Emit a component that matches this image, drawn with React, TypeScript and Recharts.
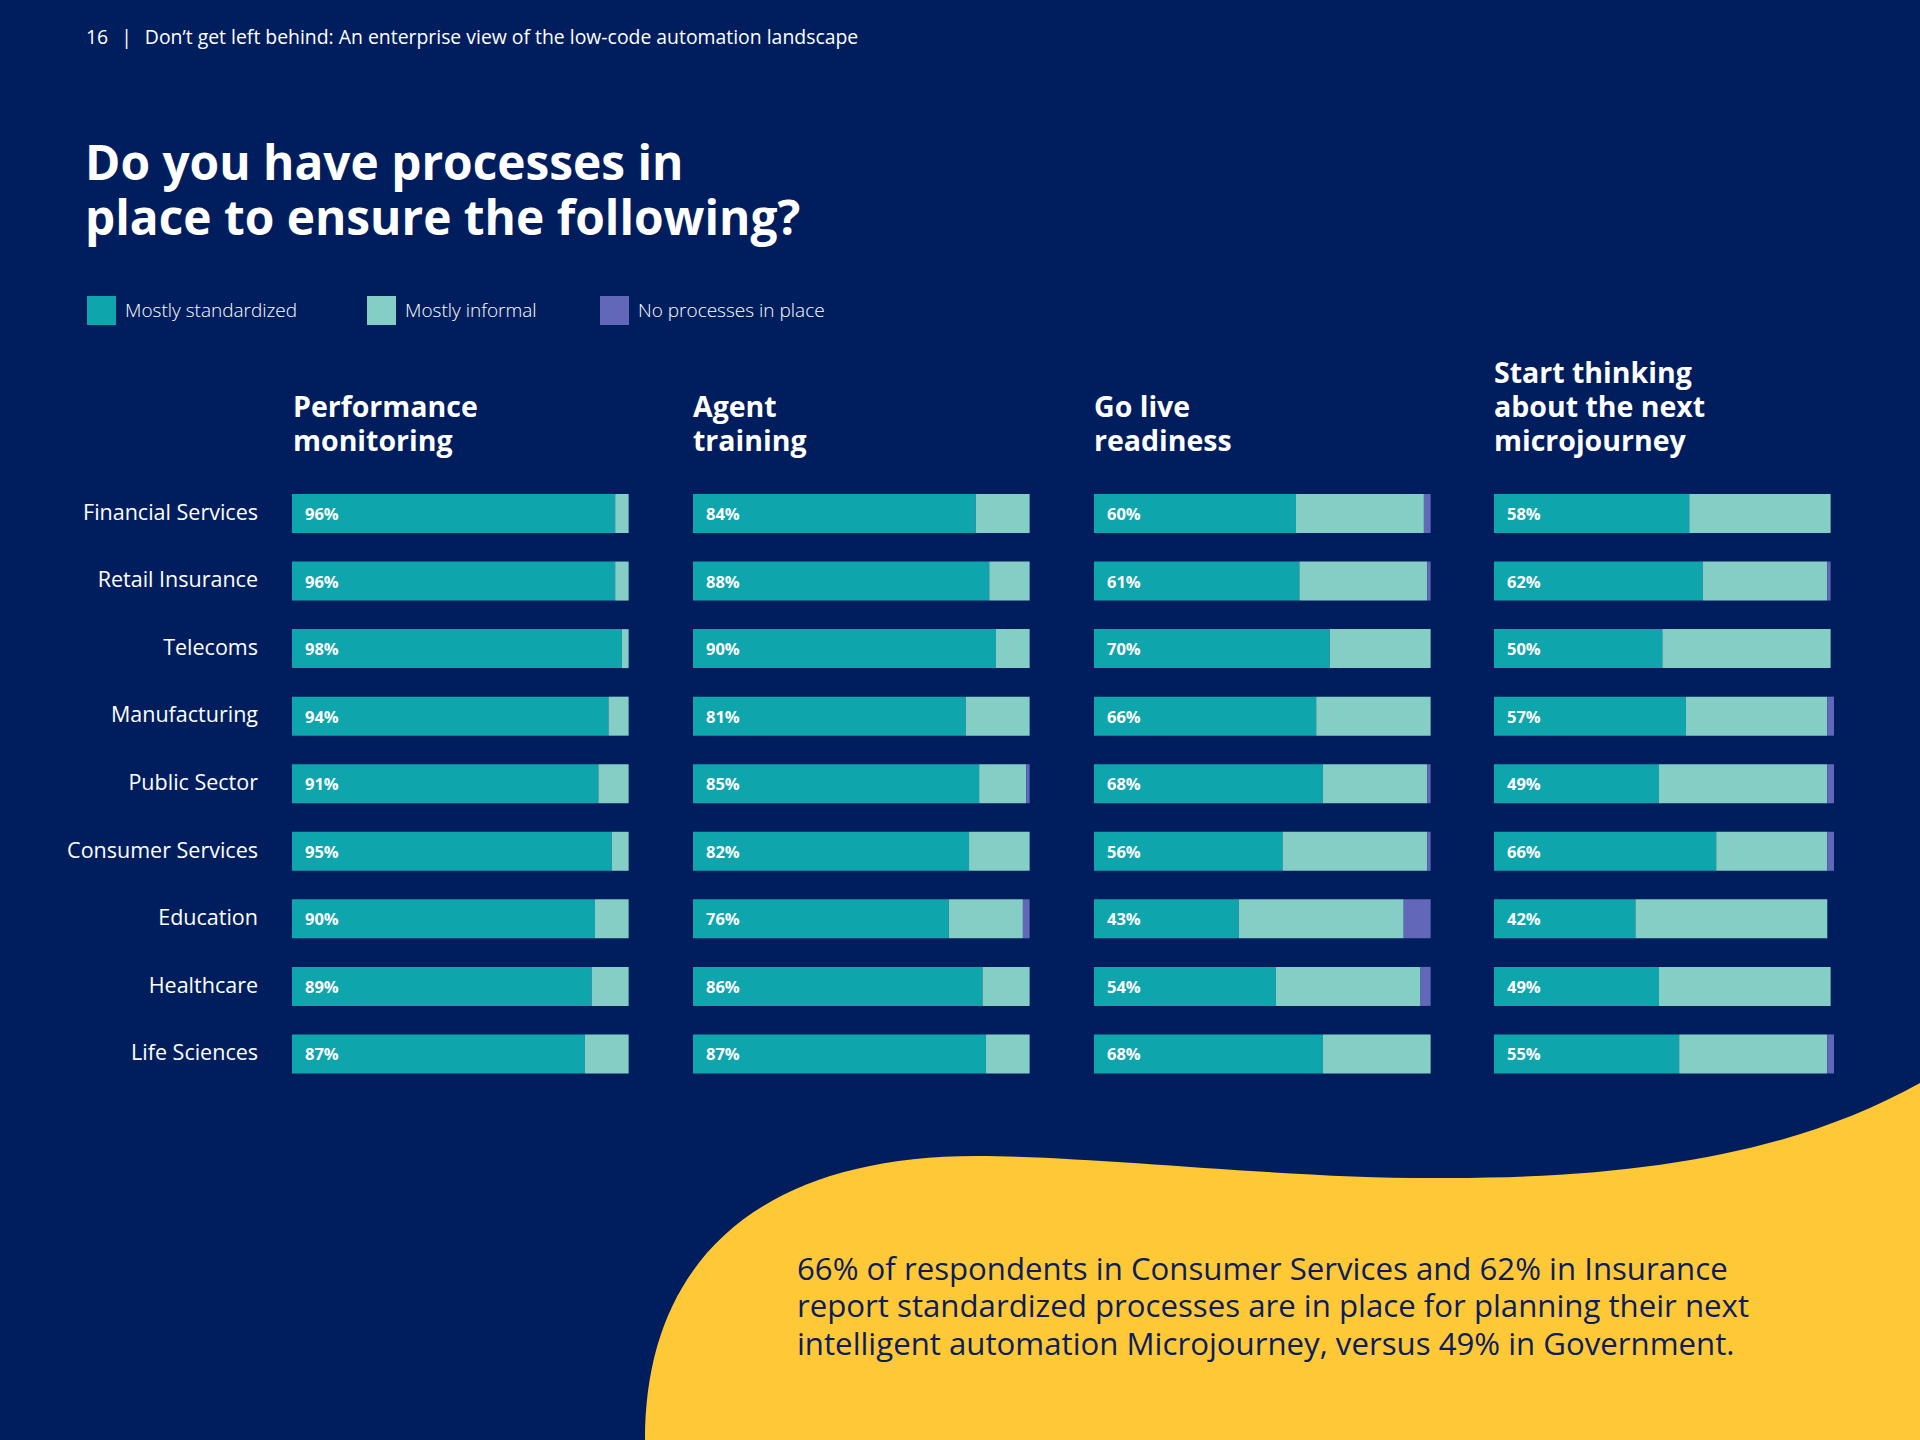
import { BarChart, Bar, XAxis, YAxis, LabelList } from "recharts";

const categories = [
  "Financial Services",
  "Retail Insurance",
  "Telecoms",
  "Manufacturing",
  "Public Sector",
  "Consumer Services",
  "Education",
  "Healthcare",
  "Life Sciences",
];

// one entry per panel: standardized / informal / no processes, in %
const perfStandard = [96, 96, 98, 94, 91, 95, 90, 89, 87];
const perfInformal = [4, 4, 2, 6, 9, 5, 10, 11, 13];
const perfNone = [0, 0, 0, 0, 0, 0, 0, 0, 0];

const agentStandard = [84, 88, 90, 81, 85, 82, 76, 86, 87];
const agentInformal = [16, 12, 10, 19, 14, 18, 22, 14, 13];
const agentNone = [0, 0, 0, 0, 1, 0, 2, 0, 0];

const liveStandard = [60, 61, 70, 66, 68, 56, 43, 54, 68];
const liveInformal = [38, 38, 30, 34, 31, 43, 49, 43, 32];
const liveNone = [2, 1, 0, 0, 1, 1, 8, 3, 0];

const journeyStandard = [58, 62, 50, 57, 49, 66, 42, 49, 55];
const journeyInformal = [42, 37, 50, 42, 50, 33, 57, 51, 44];
const journeyNone = [0, 1, 0, 2, 2, 2, 0, 0, 2];

const panelTitles = [
  ["Performance", "monitoring"],
  ["Agent", "training"],
  ["Go live", "readiness"],
  ["Start thinking", "about the next", "microjourney"],
];

const titleLines = ["Do you have processes in", "place to ensure the following?"];

const captionLines = [
  "66% of respondents in Consumer Services and 62% in Insurance",
  "report standardized processes are in place for planning their next",
  "intelligent automation Microjourney, versus 49% in Government.",
];

const seriesNames = ["Mostly standardized", "Mostly informal", "No processes in place"];

const NAVY = "#001e5e";
const TEAL = "#0fa5ad";
const LIGHT = "#84cec5";
const PURPLE = "#6267b9";
const YELLOW = "#ffc836";
const FONT = "'Open Sans', 'Noto Sans', sans-serif";

const buildRows = (std: number[], inf: number[], none: number[]) =>
  categories.map((name, i) => ({ name, std: std[i], inf: inf[i], none: none[i] }));

const panels = [
  { rows: buildRows(perfStandard, perfInformal, perfNone), left: 293 },
  { rows: buildRows(agentStandard, agentInformal, agentNone), left: 693 },
  { rows: buildRows(liveStandard, liveInformal, liveNone), left: 1094 },
  { rows: buildRows(journeyStandard, journeyInformal, journeyNone), left: 1494 },
];

const PLOT_W = 340;
const AXIS_W = 292;

const CategoryTick = ({ y, payload }: any) => (
  <text
    x={258}
    y={y}
    dy={6}
    textAnchor="end"
    fill="#ffffff"
    fontSize={21.5}
    fontFamily={FONT}
  >
    {payload.value}
  </text>
);

const PctLabel = ({ x, y, height, value }: any) => (
  <text
    x={x + 13}
    y={y + height / 2}
    dy={6.5}
    fill="#ffffff"
    fontSize={16.5}
    fontWeight={700}
    fontFamily={FONT}
  >
    {`${value}%`}
  </text>
);

function Panel({ rows, index }: { rows: any[]; index: number }) {
  const first = index === 0;
  return (
    <BarChart
      width={first ? AXIS_W + PLOT_W : PLOT_W}
      height={608}
      data={rows}
      layout="vertical"
      margin={{ top: 0, right: 0, bottom: 0, left: 0 }}
      barSize={39}
    >
      <XAxis type="number" domain={[0, 101]} hide />
      <YAxis
        type="category"
        dataKey="name"
        hide={!first}
        width={AXIS_W}
        axisLine={false}
        tickLine={false}
        tick={<CategoryTick />}
        interval={0}
      />
      <Bar dataKey="std" stackId="a" fill={TEAL} isAnimationActive={false}>
        <LabelList dataKey="std" content={<PctLabel />} />
      </Bar>
      <Bar dataKey="inf" stackId="a" fill={LIGHT} isAnimationActive={false} />
      <Bar dataKey="none" stackId="a" fill={PURPLE} isAnimationActive={false} />
    </BarChart>
  );
}

// stacked lines, each in its own fixed-height box
function Lines({ lines, left, top, size, step, weight, color }: any) {
  return (
    <>
      {lines.map((l: string, i: number) => (
        <div
          key={l}
          style={{
            position: "absolute",
            left,
            top: top + i * step,
            height: step,
            fontSize: size,
            lineHeight: `${step}px`,
            fontWeight: weight,
            color,
            whiteSpace: "nowrap",
          }}
        >
          {l}
        </div>
      ))}
    </>
  );
}

export default function App() {
  const legendColors = [TEAL, LIGHT, PURPLE];
  const legendX = [87, 367, 600];

  return (
    <div
      style={{
        position: "absolute",
        left: 0,
        top: 0,
        width: 1920,
        height: 1440,
        overflow: "hidden",
        background: NAVY,
        fontFamily: FONT,
        color: "#ffffff",
      }}
    >
      {/* yellow wave in the corner */}
      <svg width={1920} height={1440} style={{ position: "absolute", left: 0, top: 0 }}>
        <path
          d="M 645 1440 C 645 1260, 760 1156, 977 1156 C 1100 1156, 1300 1180, 1449 1178 C 1650 1178, 1800 1150, 1920 1083 L 1920 1440 Z"
          fill={YELLOW}
        />
      </svg>

      <div style={{ position: "absolute", left: 86, top: 27, fontSize: 19.4, lineHeight: "19.4px", whiteSpace: "pre" }}>
        16<span style={{ margin: "0 13px" }}>|</span>Don’t get left behind: An enterprise view of the low-code automation landscape
      </div>

      <Lines lines={titleLines} left={85} top={134} size={47.8} step={55} weight={700} />

      {seriesNames.map((s, i) => (
        <div key={s}>
          <div
            style={{
              position: "absolute",
              left: legendX[i],
              top: 296,
              width: 29,
              height: 29,
              background: legendColors[i],
            }}
          />
          <div
            style={{
              position: "absolute",
              left: legendX[i] + 38,
              top: 301,
              fontSize: 19,
              lineHeight: "19px",
              fontWeight: 300,
            }}
          >
            {s}
          </div>
        </div>
      ))}

      {panelTitles.map((lines, i) => (
        <Lines
          key={i}
          lines={lines}
          left={panels[i].left}
          top={457 - 34 * lines.length}
          size={28.5}
          step={34}
          weight={700}
        />
      ))}

      {panels.map((p, i) => (
        <div
          key={i}
          style={{ position: "absolute", top: 480, left: i === 0 ? 0 : p.left }}
        >
          <Panel rows={p.rows} index={i} />
        </div>
      ))}

      <Lines
        lines={captionLines}
        left={797}
        top={1249.5}
        size={31.2}
        step={37.7}
        weight={400}
        color="#0b1d5c"
      />
    </div>
  );
}
